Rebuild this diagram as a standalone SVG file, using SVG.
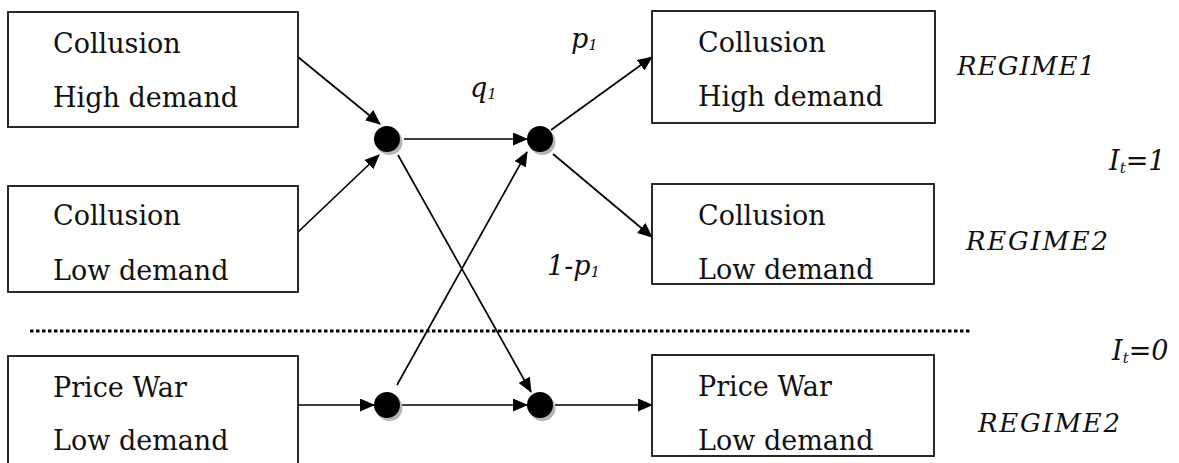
<svg xmlns="http://www.w3.org/2000/svg" width="1179" height="463" viewBox="0 0 1179 463">
<style>
.box{fill:#fff;stroke:#111;stroke-width:1.8}
.t{font-family:"DejaVu Serif","Liberation Serif",serif;font-size:27px;fill:#111}
.lab{font-family:"DejaVu Serif","Liberation Serif",serif;font-style:italic;font-size:27px;fill:#111}
.reg{font-size:26px}
.sub{font-size:15px}
.c{stroke:#000;stroke-width:1.7;fill:none;marker-end:url(#ah)}
.dot{fill:#000}
.sh{fill:#b5b5b5}
</style>
<defs>
<marker id="ah" markerUnits="userSpaceOnUse" markerWidth="15" markerHeight="13" refX="14" refY="6.5" orient="auto">
<path d="M0,0 L15,6.5 L0,13 z" fill="#000"/>
</marker>
</defs>

<g id="connectors">
<line class="c" x1="298" y1="57" x2="380" y2="124"/>
<line class="c" x1="298" y1="232" x2="379" y2="155"/>
<line class="c" x1="404" y1="139" x2="527" y2="139"/>
<line class="c" x1="551" y1="130" x2="652" y2="57"/>
<line class="c" x1="553" y1="154" x2="652" y2="237"/>
<line class="c" x1="398" y1="155" x2="531" y2="392"/>
<line class="c" x1="397" y1="385" x2="527" y2="152"/>
<line class="c" x1="298" y1="405" x2="374" y2="405"/>
<line class="c" x1="402" y1="405" x2="527" y2="405"/>
<line class="c" x1="555" y1="405" x2="652" y2="405"/>
</g>

<line id="separator" x1="30" y1="331" x2="972" y2="331" stroke="#000" stroke-width="3" stroke-dasharray="3.5 2.5"/>

<g id="n-collusion-high-left">
<rect class="box" x="8" y="12" width="290" height="115"/>
<text class="t" x="53" y="53">Collusion</text>
<text class="t" x="53" y="107">High demand</text>
</g>
<g id="n-collusion-low-left">
<rect class="box" x="8" y="186" width="290" height="106"/>
<text class="t" x="53" y="225">Collusion</text>
<text class="t" x="53" y="280">Low demand</text>
</g>
<g id="n-pricewar-left">
<rect class="box" x="8" y="356" width="290" height="120"/>
<text class="t" x="53" y="397">Price War</text>
<text class="t" x="53" y="450">Low demand</text>
</g>

<g id="n-collusion-high-right">
<rect class="box" x="652" y="11" width="283" height="112"/>
<text class="t" x="698" y="52">Collusion</text>
<text class="t" x="698" y="106">High demand</text>
</g>
<g id="n-collusion-low-right">
<rect class="box" x="652" y="184" width="282" height="100"/>
<text class="t" x="698" y="225">Collusion</text>
<text class="t" x="698" y="279">Low demand</text>
</g>
<g id="n-pricewar-right">
<rect class="box" x="652" y="355" width="282" height="101"/>
<text class="t" x="698" y="396">Price War</text>
<text class="t" x="698" y="450">Low demand</text>
</g>

<g id="node1"><circle class="sh" cx="389.5" cy="142" r="13"/><circle class="dot" cx="387" cy="139" r="13"/></g>
<g id="node2"><circle class="sh" cx="542.5" cy="142" r="13"/><circle class="dot" cx="540" cy="139" r="13"/></g>
<g id="node3"><circle class="sh" cx="389.5" cy="408" r="13"/><circle class="dot" cx="387" cy="405" r="13"/></g>
<g id="node4"><circle class="sh" cx="542.5" cy="408" r="13"/><circle class="dot" cx="540" cy="405" r="13"/></g>

<g id="labels">
<text class="lab" x="571" y="48">p<tspan class="sub" dy="2">1</tspan></text>
<text class="lab" x="470" y="97">q<tspan class="sub" dy="2">1</tspan></text>
<text class="lab" x="547" y="275">1-p<tspan class="sub" dy="2">1</tspan></text>
<text class="lab reg" x="957" y="75" textLength="138">REGIME1</text>
<text class="lab" x="1109" y="170">I<tspan class="sub" dy="3">t</tspan><tspan dy="-3">=1</tspan></text>
<text class="lab reg" x="966" y="250" textLength="142">REGIME2</text>
<text class="lab" x="1112" y="360">I<tspan class="sub" dy="3">t</tspan><tspan dy="-3">=0</tspan></text>
<text class="lab reg" x="978" y="432" textLength="142">REGIME2</text>
</g>
</svg>
